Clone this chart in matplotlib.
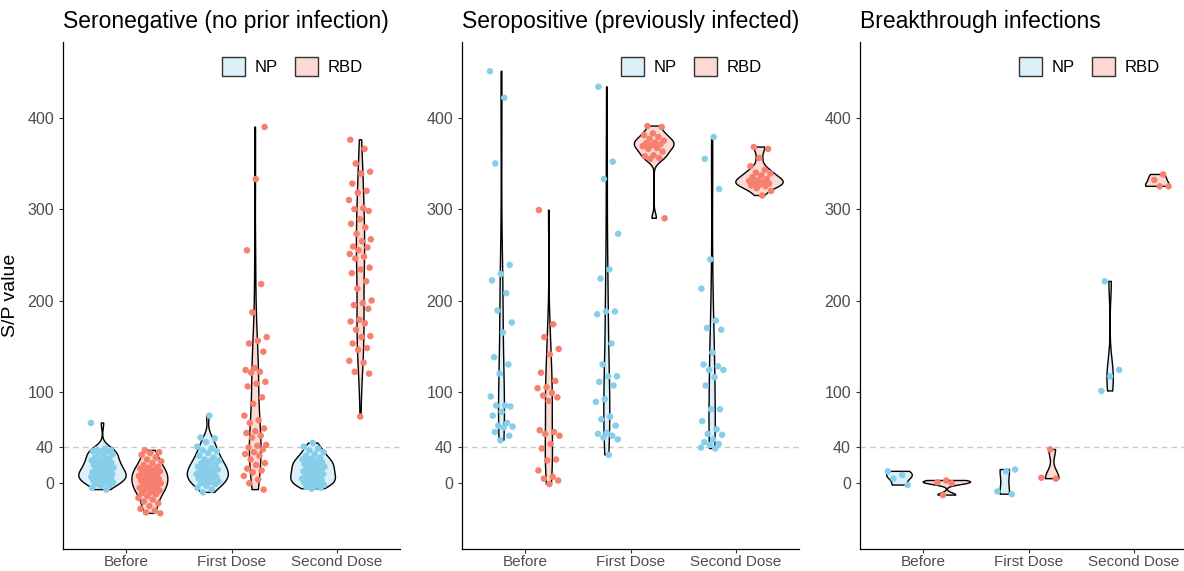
import numpy as np
import matplotlib
matplotlib.use("Agg")
import matplotlib.pyplot as plt
from matplotlib.patches import Patch

plt.rcParams['font.family'] = ['Liberation Sans', 'DejaVu Sans']

titles = ["Seronegative (no prior infection)",
          "Seropositive (previously infected)",
          "Breakthrough infections"]
doses = ["Before", "First Dose", "Second Dose"]
antigens = ["NP", "RBD"]

# ---- Seronegative ----
neg_np_before = [66, 38, 37, 36, 35, 35, 34, 33, 32, 30, 28, 27, 26, 25, 24, 23, 22, 21, 20,
                 19, 18, 17, 16, 15, 14, 13, 12, 12, 11, 10, 10, 9, 8, 8, 7, 6, 5, 5, 4, 3,
                 3, 2, 1, 0, -1, -2, -3, -5, -7]
neg_rbd_before = [36, 34, 33, 31, 28, 26, 24, 22, 20, 18, 17, 16, 15, 14, 13, 12, 11, 10, 9, 8,
                  7, 6, 5, 4, 3, 2, 1, 0, -1, -2, -3, -4, -5, -6, -7, -8, -10, -11, -12, -14,
                  -16, -18, -20, -22, -25, -28, -30, -32, -33]
neg_np_first = [74, 50, 49, 45, 40, 38, 36, 35, 33, 30, 28, 26, 25, 24, 22, 21, 20, 18, 17, 16,
                15, 14, 13, 12, 11, 10, 9, 8, 7, 6, 5, 4, 3, 2, 1, 0, -1, -3, -5, -7, -10]
neg_rbd_first = [390, 333, 255, 218, 187, 160, 156, 153, 144, 126, 124, 122, 121, 111, 109, 106,
                 94, 87, 74, 69, 66, 60, 57, 55, 52, 50, 42, 41, 39, 37, 34, 32, 30, 26, 22, 20,
                 16, 14, 12, 8, 4, 0, -7]
neg_np_second = [44, 40, 38, 36, 34, 32, 30, 28, 27, 26, 25, 24, 23, 22, 21, 20, 19, 18, 17, 16,
                 15, 14, 13, 12, 11, 10, 9, 8, 7, 6, 5, 4, 4, 3, 2, 1, 0, -1, -2, -3, -4, -5, -6]
neg_rbd_second = [376, 366, 350, 341, 339, 328, 320, 318, 310, 301, 300, 298, 289, 284, 280, 273,
                  267, 265, 259, 258, 255, 251, 248, 246, 236, 234, 230, 221, 213, 200, 197, 195,
                  191, 179, 177, 175, 168, 161, 160, 153, 148, 146, 134, 132, 122, 120, 73]

# ---- Seropositive ----
pos_np_before = [451, 422, 350, 239, 229, 222, 208, 189, 176, 165, 138, 130, 120, 95, 85, 85,
                 84, 78, 74, 66, 63, 62, 61, 56, 52, 47]
pos_rbd_before = [299, 174, 160, 147, 141, 121, 112, 105, 104, 99, 96, 94, 90, 58, 56, 54, 52,
                  43, 38, 26, 25, 14, 7, 5, 3, -1]
pos_np_first = [434, 352, 333, 273, 234, 224, 188, 188, 185, 153, 130, 117, 117, 111, 107, 92,
                89, 73, 70, 63, 55, 54, 52, 50, 48, 31]
pos_rbd_first = [391, 390, 383, 381, 379, 377, 375, 373, 372, 371, 370, 369, 367, 366, 363, 359,
                 358, 356, 355, 290]
pos_np_second = [379, 355, 322, 245, 213, 178, 170, 168, 143, 130, 128, 124, 124, 116, 107, 81,
                 81, 68, 59, 54, 53, 48, 45, 43, 42, 39, 38]
pos_rbd_second = [368, 366, 356, 347, 343, 340, 339, 337, 335, 333, 332, 331, 330, 329, 328,
                  327, 326, 325, 323, 320, 315]

# ---- Breakthrough ----
bt_np_before = [13, 9, 5, -2]
bt_rbd_before = [3, 1, 0, -13]
bt_np_first = [15, 13, -9, -12]
bt_rbd_first = [37, 6, 5]
bt_np_second = [221, 124, 117, 101]
bt_rbd_second = [338, 332, 325, 325]

panels = [
    [[neg_np_before, neg_rbd_before], [neg_np_first, neg_rbd_first], [neg_np_second, neg_rbd_second]],
    [[pos_np_before, pos_rbd_before], [pos_np_first, pos_rbd_first], [pos_np_second, pos_rbd_second]],
    [[bt_np_before, bt_rbd_before], [bt_np_first, bt_rbd_first], [bt_np_second, bt_rbd_second]],
]

point_colors = ["#87CEEB", "#F77F6E"]
fill_colors = ["#DBF0F9", "#FCD9D3"]


def bw_nrd0(x):
    x = np.asarray(x, float)
    sd = x.std(ddof=1)
    q75, q25 = np.percentile(x, [75, 25])
    lo = min(sd, (q75 - q25) / 1.34)
    if lo <= 0:
        lo = sd if sd > 0 else 1.0
    return 0.9 * lo * len(x) ** -0.2


def density(x):
    x = np.asarray(x, float)
    bw = bw_nrd0(x)
    grid = np.linspace(x.min(), x.max(), 512)
    d = np.exp(-0.5 * ((grid[:, None] - x[None, :]) / bw) ** 2).sum(1)
    d /= len(x) * bw * np.sqrt(2 * np.pi)
    return grid, d


fig = plt.figure(figsize=(11.84, 5.71), dpi=100)
lefts = [63, 462, 860]
dodge = 0.225
half_w = 0.225

for p, (left, groups) in enumerate(zip(lefts, panels)):
    ax = fig.add_axes([left / 1184, 22 / 571, 337 / 1184, 507 / 571])
    ax.axhline(40, color="#C8C8C8", lw=1, ls=(0, (4, 3)), zorder=0)

    dens = [[density(v) for v in g] for g in groups]
    dmax = max(d.max() for g in dens for _, d in g)

    k = 0
    for i, g in enumerate(groups):
        for j, vals in enumerate(g):
            xc = i + 1 + (dodge if j else -dodge)
            grid, d = dens[i][j]
            w = d / dmax * half_w
            xs = np.concatenate([xc - w, (xc + w)[::-1]])
            ys = np.concatenate([grid, grid[::-1]])
            ax.fill(xs, ys, facecolor=fill_colors[j], edgecolor="black", lw=1, zorder=2)
            n = len(vals)
            jit = np.array([((m + k) * 0.6180339887) % 1.0 for m in range(n)])
            k += n
            ax.scatter(xc + (jit - 0.5) * 0.22, vals, s=22, color=point_colors[j],
                       edgecolors="none", zorder=3)

    ax.set_xlim(0.4, 3.6)
    ax.set_ylim(-72, 483)
    ax.set_xticks([1, 2, 3])
    ax.set_xticklabels(doses)
    ax.set_yticks([0, 40, 100, 200, 300, 400])
    ax.tick_params(colors="#333333", labelcolor="#4D4D4D", labelsize=11.5, length=3)
    ax.tick_params(axis="x", labelsize=11, pad=1.5)
    for s in ["top", "right"]:
        ax.spines[s].set_visible(False)
    for s in ["left", "bottom"]:
        ax.spines[s].set_linewidth(0.9)
    ax.set_title(titles[p], loc="left", fontsize=16.5, pad=10)
    if p == 0:
        ax.set_ylabel("S/P value", fontsize=14, labelpad=6)

    handles = [Patch(facecolor=fill_colors[m], edgecolor="#333333", label=antigens[m])
               for m in range(2)]
    ax.legend(handles=handles, ncol=2, frameon=False, loc="center right",
              bbox_to_anchor=(0.935, 0.951), fontsize=12, handlelength=1.4,
              handleheight=1.4, columnspacing=1.0, handletextpad=0.6)

fig.savefig("out.png", dpi=100, facecolor="white")
